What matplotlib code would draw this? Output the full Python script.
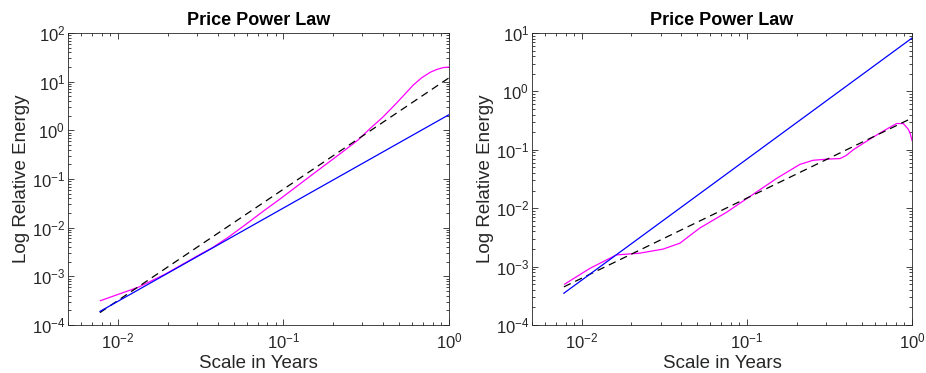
import numpy as np
import matplotlib
matplotlib.use("Agg")
import matplotlib.pyplot as plt

plt.rcParams['font.family'] = ['Liberation Sans', 'DejaVu Sans']
plt.rcParams['mathtext.fontset'] = 'custom'
plt.rcParams['mathtext.rm'] = 'Liberation Sans'
plt.rcParams['mathtext.it'] = 'Liberation Sans'
plt.rcParams['mathtext.bf'] = 'Liberation Sans:bold'

# left panel: log10 of scale and log10 of energy
left_mag_lx = [-2.105, -1.873, -1.711, -1.509, -1.428, -1.326, -1.226, -1.125, -1.024, -0.923,
               -0.822, -0.720, -0.630, -0.550, -0.479, -0.400, -0.317, -0.265, -0.216, -0.165,
               -0.115, -0.075, -0.034, 0.0]
left_mag_ly = [-3.50, -3.22, -2.95, -2.56, -2.41, -2.18, -1.93, -1.67, -1.42, -1.16,
               -0.90, -0.64, -0.41, -0.20, 0.03, 0.27, 0.56, 0.75, 0.93, 1.08,
               1.19, 1.25, 1.29, 1.30]
left_fit_x = [0.0078, 1.0]
left_fit_y = [1.8e-4, 12.0]
left_blue_x = [0.0078, 1.0]
left_blue_y = [1.9e-4, 2.1]

# right panel
right_mag_lx = [-2.103, -1.950, -1.790, -1.648, -1.507, -1.406, -1.285, -1.123, -0.982, -0.820,
                -0.679, -0.600, -0.517, -0.436, -0.400, -0.356, -0.290, -0.234, -0.150, -0.093,
                -0.053, -0.022, -0.010, 0.0]
right_mag_ly = [-3.30, -3.03, -2.80, -2.77, -2.70, -2.60, -2.34, -2.07, -1.80, -1.49,
                -1.25, -1.18, -1.16, -1.15, -1.10, -1.00, -0.88, -0.78, -0.64, -0.55,
                -0.55, -0.65, -0.73, -0.84]
right_fit_x = [0.0078, 1.0]
right_fit_y = [4.5e-4, 0.35]
right_blue_x = [0.0078, 1.0]
right_blue_y = [3.5e-4, 8.2]

fig = plt.figure(figsize=(9.26, 3.73), dpi=100)
ax1 = fig.add_axes([0.0734, 0.1287, 0.4115, 0.7828])
ax2 = fig.add_axes([0.5745, 0.1287, 0.4104, 0.7828])

panels = [
    (ax1, left_mag_lx, left_mag_ly, left_fit_x, left_fit_y, left_blue_x, left_blue_y, (1e-4, 1e2)),
    (ax2, right_mag_lx, right_mag_ly, right_fit_x, right_fit_y, right_blue_x, right_blue_y, (1e-4, 1e1)),
]

for ax, mlx, mly, fx, fy, bx, by, ylim in panels:
    ax.plot(10 ** np.array(mlx), 10 ** np.array(mly), color=(1, 0, 1), lw=0.9)
    ax.plot(fx, fy, color='k', lw=0.9, ls=(0, (6, 4)))
    ax.plot(bx, by, color=(0, 0, 1), lw=0.9)
    ax.set_xscale('log')
    ax.set_yscale('log')
    ax.set_xlim(0.005, 1)
    ax.set_ylim(*ylim)
    ax.set_title('Price Power Law', fontsize=13, fontweight='bold', pad=6)
    ax.set_xlabel('Scale in Years', fontsize=13.5, color='#262626', labelpad=2)
    ax.set_ylabel('Log Relative Energy', fontsize=13.5, color='#262626', labelpad=1)
    ax.tick_params(which='both', direction='in', top=True, right=True,
                   labelsize=12, colors='#262626', width=0.6)
    ax.tick_params(axis='x', which='major', pad=5)
    ax.tick_params(axis='y', which='major', pad=2)
    ax.tick_params(which='major', length=4)
    ax.tick_params(which='minor', length=2.5)
    for s in ax.spines.values():
        s.set_linewidth(0.6)
        s.set_color('#262626')

fig.savefig('out.png', dpi=100)
